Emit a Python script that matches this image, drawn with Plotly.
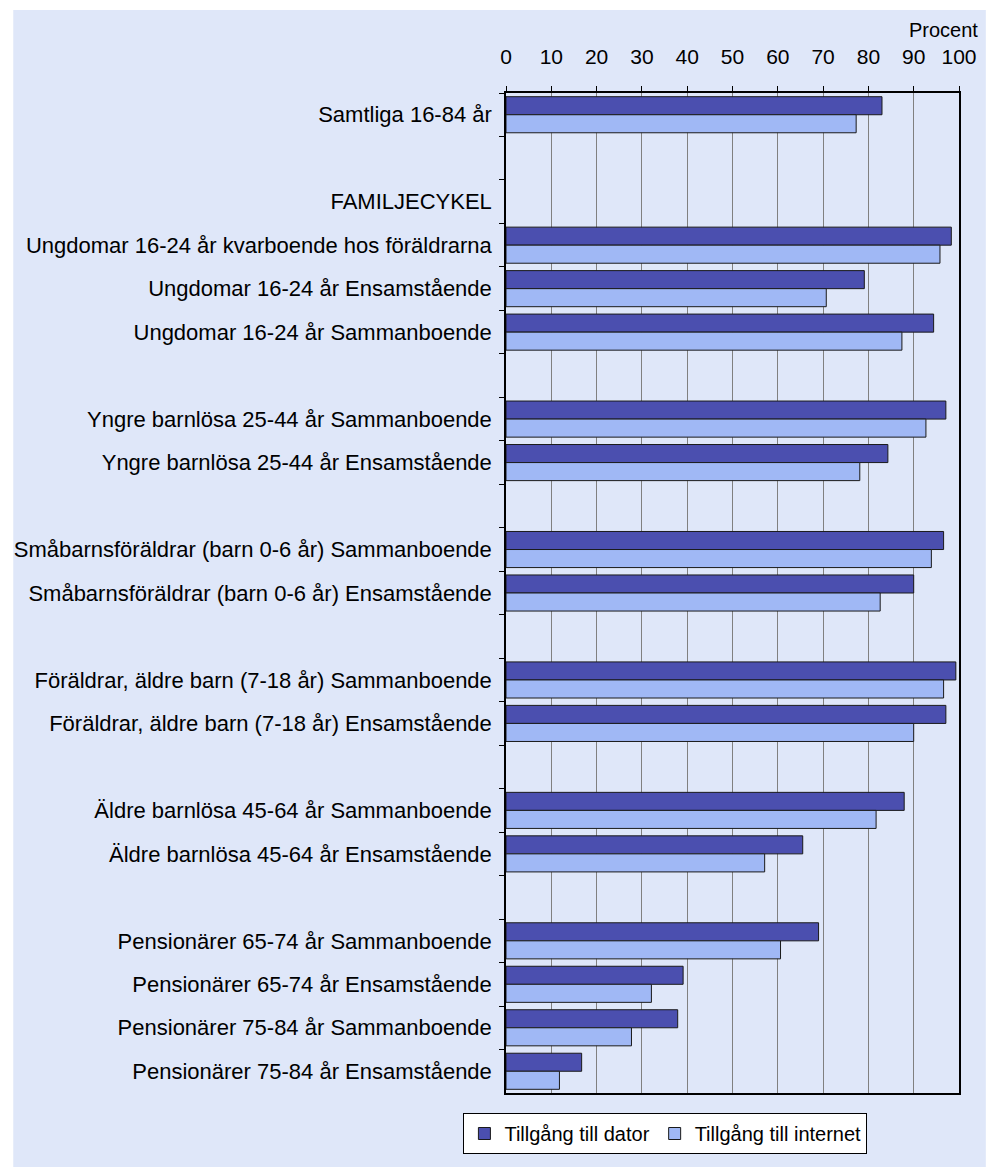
import plotly.graph_objects as go

# rows from top to bottom; whitespace-only names are the empty spacer rows
CATEGORIES = [
    "Samtliga 16-84 år",
    " ",
    "FAMILJECYKEL",
    "Ungdomar 16-24 år kvarboende hos föräldrarna",
    "Ungdomar 16-24 år Ensamstående",
    "Ungdomar 16-24 år Sammanboende",
    "  ",
    "Yngre barnlösa 25-44 år Sammanboende",
    "Yngre barnlösa 25-44 år Ensamstående",
    "   ",
    "Småbarnsföräldrar (barn 0-6 år) Sammanboende",
    "Småbarnsföräldrar (barn 0-6 år) Ensamstående",
    "    ",
    "Föräldrar, äldre barn (7-18 år) Sammanboende",
    "Föräldrar, äldre barn (7-18 år) Ensamstående",
    "     ",
    "Äldre barnlösa 45-64 år Sammanboende",
    "Äldre barnlösa 45-64 år Ensamstående",
    "      ",
    "Pensionärer 65-74 år Sammanboende",
    "Pensionärer 65-74 år Ensamstående",
    "Pensionärer 75-84 år Sammanboende",
    "Pensionärer 75-84 år Ensamstående",
]

DATOR = [83, None, None, 98.3, 79.1, 94.4, None, 97.1, 84.3, None, 96.6, 90.0,
         None, 99.3, 97.1, None, 87.9, 65.5, None, 69.0, 39.1, 37.9, 16.7]
INTERNET = [77.3, None, None, 95.8, 70.7, 87.4, None, 92.7, 78.1, None, 93.9, 82.6,
            None, 96.6, 90.0, None, 81.7, 57.1, None, 60.6, 32.1, 27.7, 11.8]

SERIES = ["Tillgång till dator", "Tillgång till internet"]
X_TICKS = list(range(0, 101, 10))

FONT = "Liberation Sans, Arial, sans-serif"
BG = "#DFE7F9"
DARK = "#4B4FAF"
LIGHT = "#A0B8F5"

fig = go.Figure()
for name, vals, color in zip(SERIES, [DATOR, INTERNET], [DARK, LIGHT]):
    fig.add_trace(go.Bar(
        y=CATEGORIES, x=vals, name=name, orientation="h",
        marker=dict(color=color, line=dict(color="#1A1A1A", width=1)),
        hovertemplate="%{y}<br>%{x:.1f} %<extra>" + name + "</extra>",
    ))

fig.update_layout(
    width=989, height=1167,
    paper_bgcolor="white", plot_bgcolor="white",
    margin=dict(l=506, r=27, t=93, b=74),
    font=dict(family=FONT, size=21, color="black"),
    barmode="group", bargap=0.17, bargroupgap=0,
    showlegend=True,
    legend=dict(orientation="h", x=-0.094, xanchor="left", y=-0.02, yanchor="top",
                bgcolor="white", bordercolor="black", borderwidth=1,
                font=dict(size=20), traceorder="normal"),
)
# light-blue backdrop with a thin white border like the original export
fig.add_shape(type="rect", xref="paper", yref="paper", layer="below",
              x0=(10 - 506) / 456, x1=(989 - 506) / 456,
              y0=(1093 - 1167) / 1000, y1=(1093 - 10) / 1000,
              fillcolor=BG, line_width=0)
fig.add_annotation(text="Procent", xref="paper", yref="paper",
                   x=(983 - 506) / 456, xanchor="right", y=(1093 - 30) / 1000,
                   yanchor="middle", showarrow=False, font=dict(size=20))

fig.update_xaxes(side="top", range=[0, 100], tickvals=X_TICKS,
                 ticks="outside", ticklen=5, tickcolor="black",
                 showgrid=True, gridcolor="#808080", gridwidth=1,
                 showline=True, linecolor="black", linewidth=1.5, mirror=True,
                 zeroline=False, ticklabelstandoff=14, fixedrange=True)
fig.update_yaxes(type="category", categoryorder="array", categoryarray=CATEGORIES,
                 autorange="reversed", tickson="boundaries",
                 ticks="outside", ticklen=5, tickcolor="black",
                 tickfont=dict(size=22),
                 showgrid=False, showline=True, linecolor="black", linewidth=1.5,
                 mirror=True, ticklabelstandoff=8, fixedrange=True)

fig.write_html("out.html", config=dict(displayModeBar=False),
               post_script="document.body.style.margin='0';"
                           "document.body.style.overflow='hidden';")
